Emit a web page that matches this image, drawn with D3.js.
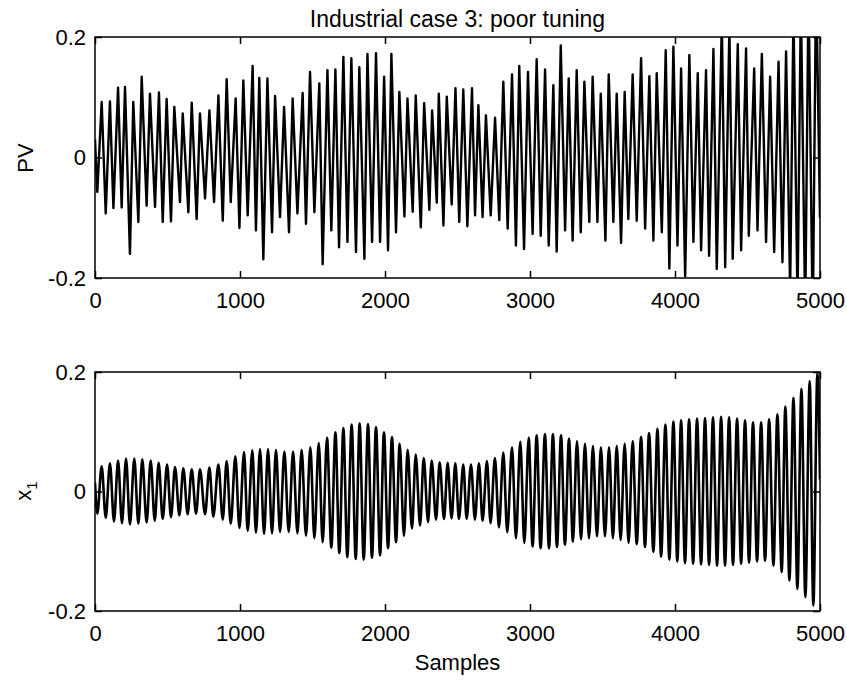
<!DOCTYPE html>
<html>
<head>
<meta charset="utf-8">
<script src="https://cdn.jsdelivr.net/npm/d3@7"></script>
<style>
  body { margin: 0; background: #fff; }
  svg { display: block; font-family: "Liberation Sans", Arial, sans-serif; }
</style>
</head>
<body>
<div id="chart"></div>
<script>
// values (peaks / troughs of each oscillation)
const xTicks = [0, 1000, 2000, 3000, 4000, 5000];
const yTicks = [-0.2, 0, 0.2];
const yTickLabels = ["-0.2", "0", "0.2"];

const pvSample = [0, 16, 46, 74, 103, 127, 159, 184, 207, 241, 264, 299, 322, 356, 379, 414, 441, 467, 494, 524,
  547, 586, 605, 644, 667, 701, 724, 759, 789, 821, 851, 881, 908, 936, 970, 996, 1023, 1053, 1087, 1110,
  1133, 1161, 1189, 1221, 1242, 1276, 1304, 1338, 1363, 1396, 1432, 1455, 1483, 1513, 1547, 1570, 1603, 1630, 1658, 1683,
  1713, 1741, 1768, 1800, 1823, 1858, 1879, 1911, 1938, 1966, 1994, 2021, 2044, 2076, 2099, 2134, 2155, 2191, 2212, 2247,
  2270, 2306, 2325, 2357, 2371, 2403, 2426, 2460, 2486, 2512, 2540, 2568, 2600, 2621, 2644, 2673, 2696, 2729, 2759, 2788,
  2816, 2846, 2876, 2903, 2926, 2959, 2986, 3018, 3046, 3074, 3104, 3129, 3161, 3184, 3212, 3242, 3267, 3294, 3322, 3350,
  3375, 3409, 3432, 3465, 3488, 3520, 3543, 3575, 3598, 3628, 3653, 3678, 3708, 3736, 3766, 3794, 3823, 3851, 3874, 3909,
  3936, 3961, 3989, 4017, 4042, 4070, 4099, 4127, 4157, 4180, 4214, 4235, 4265, 4288, 4323, 4346, 4375, 4398, 4433, 4456,
  4490, 4509, 4546, 4569, 4599, 4628, 4656, 4684, 4714, 4741, 4766, 4794, 4817, 4845, 4868, 4898, 4921, 4950, 4973, 5000];
const pvValue = [0.03, -0.057, 0.092, -0.093, 0.093, -0.084, 0.116, -0.083, 0.117, -0.160, 0.092, -0.107, 0.134, -0.080, 0.106, -0.082, 0.108, -0.107, 0.097, -0.106,
  0.084, -0.074, 0.073, -0.091, 0.091, -0.102, 0.073, -0.068, 0.078, -0.074, 0.103, -0.105, 0.130, -0.074, 0.098, -0.117, 0.128, -0.096, 0.152, -0.121,
  0.132, -0.169, 0.131, -0.124, 0.102, -0.099, 0.084, -0.124, 0.098, -0.093, 0.107, -0.110, 0.142, -0.091, 0.123, -0.177, 0.145, -0.121, 0.146, -0.149,
  0.167, -0.140, 0.165, -0.157, 0.150, -0.168, 0.172, -0.140, 0.173, -0.140, 0.134, -0.154, 0.172, -0.124, 0.109, -0.098, 0.098, -0.090, 0.103, -0.116,
  0.090, -0.087, 0.078, -0.075, 0.106, -0.113, 0.101, -0.078, 0.115, -0.107, 0.113, -0.114, 0.115, -0.096, 0.087, -0.099, 0.070, -0.096, 0.066, -0.104,
  0.126, -0.118, 0.138, -0.146, 0.152, -0.152, 0.142, -0.127, 0.163, -0.130, 0.146, -0.146, 0.120, -0.156, 0.186, -0.121, 0.131, -0.138, 0.145, -0.124,
  0.126, -0.107, 0.134, -0.107, 0.106, -0.138, 0.138, -0.107, 0.106, -0.142, 0.109, -0.102, 0.138, -0.105, 0.165, -0.118, 0.135, -0.138, 0.140, -0.124,
  0.178, -0.184, 0.184, -0.146, 0.148, -0.197, 0.170, -0.140, 0.140, -0.154, 0.145, -0.163, 0.180, -0.185, 0.225, -0.182, 0.215, -0.168, 0.188, -0.154,
  0.181, -0.130, 0.148, -0.121, 0.172, -0.140, 0.134, -0.157, 0.159, -0.174, 0.176, -0.22, 0.24, -0.24, 0.26, -0.26, 0.28, -0.28, 0.30, -0.10];

const x1Sample = [0, 16, 46, 74, 103, 131, 159, 186, 214, 241, 271, 299, 326, 356, 384, 412, 439, 467, 497, 524,
  552, 582, 609, 639, 667, 697, 724, 759, 789, 816, 851, 881, 908, 936, 968, 996, 1028, 1053, 1085, 1110,
  1138, 1166, 1193, 1221, 1248, 1276, 1306, 1336, 1366, 1396, 1425, 1455, 1485, 1513, 1543, 1570, 1600, 1630, 1658, 1685,
  1713, 1740, 1770, 1798, 1825, 1853, 1883, 1910, 1938, 1966, 1993, 2021, 2048, 2076, 2101, 2131, 2156, 2186, 2212, 2242,
  2267, 2297, 2322, 2352, 2377, 2407, 2432, 2459, 2485, 2510, 2540, 2563, 2593, 2620, 2648, 2673, 2703, 2728, 2758, 2786,
  2816, 2843, 2876, 2903, 2933, 2961, 2991, 3018, 3046, 3073, 3103, 3131, 3158, 3186, 3214, 3241, 3269, 3296, 3324, 3352,
  3379, 3407, 3434, 3462, 3489, 3517, 3545, 3572, 3598, 3625, 3653, 3680, 3708, 3736, 3766, 3793, 3821, 3851, 3879, 3904,
  3934, 3961, 3989, 4016, 4042, 4069, 4097, 4125, 4152, 4180, 4207, 4235, 4262, 4290, 4318, 4345, 4373, 4400, 4428, 4456,
  4483, 4511, 4538, 4566, 4594, 4621, 4649, 4679, 4706, 4736, 4761, 4789, 4817, 4844, 4872, 4899, 4929, 4954, 4982, 5000];
const x1Value = [0.015, -0.037, 0.042, -0.044, 0.047, -0.050, 0.052, -0.053, 0.055, -0.055, 0.055, -0.054, 0.054, -0.052, 0.052, -0.049, 0.048, -0.046, 0.045, -0.043,
  0.041, -0.040, 0.039, -0.038, 0.037, -0.037, 0.037, -0.038, 0.040, -0.042, 0.045, -0.047, 0.051, -0.054, 0.059, -0.061, 0.066, -0.066, 0.069, -0.069,
  0.071, -0.071, 0.071, -0.070, 0.070, -0.068, 0.067, -0.068, 0.067, -0.070, 0.070, -0.074, 0.074, -0.078, 0.081, -0.085, 0.090, -0.094, 0.099, -0.103,
  0.106, -0.110, 0.112, -0.113, 0.114, -0.114, 0.113, -0.111, 0.108, -0.107, 0.099, -0.095, 0.091, -0.085, 0.080, -0.074, 0.070, -0.062, 0.062, -0.057,
  0.056, -0.051, 0.052, -0.047, 0.049, -0.046, 0.048, -0.045, 0.047, -0.046, 0.045, -0.046, 0.045, -0.047, 0.047, -0.049, 0.051, -0.053, 0.056, -0.060,
  0.065, -0.068, 0.074, -0.078, 0.083, -0.086, 0.090, -0.092, 0.094, -0.095, 0.096, -0.095, 0.096, -0.093, 0.094, -0.089, 0.088, -0.084, 0.084, -0.080,
  0.080, -0.078, 0.076, -0.075, 0.074, -0.075, 0.074, -0.078, 0.076, -0.081, 0.080, -0.086, 0.084, -0.088, 0.091, -0.093, 0.098, -0.101, 0.105, -0.109,
  0.112, -0.114, 0.117, -0.117, 0.119, -0.120, 0.121, -0.121, 0.122, -0.122, 0.123, -0.123, 0.124, -0.124, 0.125, -0.124, 0.124, -0.123, 0.122, -0.121,
  0.119, -0.119, 0.116, -0.117, 0.116, -0.116, 0.121, -0.124, 0.129, -0.135, 0.142, -0.149, 0.157, -0.163, 0.172, -0.177, 0.185, -0.191, 0.198, 0.02];

const width = 847, height = 680;
const left = 95, right = 820;

const svg = d3.select("#chart").append("svg")
  .attr("width", width)
  .attr("height", height);

const x = d3.scaleLinear().domain([0, 5000]).range([left, right]);

const pvPoints = pvSample.map((s, i) => [s, pvValue[i]]);
const x1Points = x1Sample.map((s, i) => [s, x1Value[i]]);

function drawPanel(id, top, bottom, pts, curve, lw) {
  const y = d3.scaleLinear().domain([-0.2, 0.2]).range([bottom, top]);

  svg.append("clipPath").attr("id", "clip-" + id)
    .append("rect")
    .attr("x", left).attr("y", top)
    .attr("width", right - left).attr("height", bottom - top);

  const line = d3.line()
    .x(d => x(d[0]))
    .y(d => y(d[1]))
    .curve(curve);

  svg.append("path")
    .datum(pts)
    .attr("clip-path", "url(#clip-" + id + ")")
    .attr("d", line)
    .attr("fill", "none")
    .attr("stroke", "#000")
    .attr("stroke-width", lw)
    .attr("stroke-linejoin", "round");

  // axes, ticks pointing inward like matlab
  const gb = svg.append("g")
    .attr("transform", `translate(0,${bottom})`)
    .call(d3.axisBottom(x).tickValues(xTicks).tickFormat(d3.format("d"))
      .tickSizeInner(-7).tickSizeOuter(0).tickPadding(14));
  const gt = svg.append("g")
    .attr("transform", `translate(0,${top})`)
    .call(d3.axisTop(x).tickValues(xTicks).tickFormat("")
      .tickSizeInner(-7).tickSizeOuter(0));
  const gl = svg.append("g")
    .attr("transform", `translate(${left},0)`)
    .call(d3.axisLeft(y).tickValues(yTicks).tickFormat((d, i) => yTickLabels[i])
      .tickSizeInner(-7).tickSizeOuter(0).tickPadding(9));
  const gr = svg.append("g")
    .attr("transform", `translate(${right},0)`)
    .call(d3.axisRight(y).tickValues(yTicks).tickFormat("")
      .tickSizeInner(-7).tickSizeOuter(0));

  [gb, gt, gl, gr].forEach(g => {
    g.select(".domain").remove();
    g.selectAll(".tick line").attr("stroke", "#000").attr("stroke-width", 1.5);
    g.selectAll("text")
      .attr("fill", "#000")
      .style("font-size", "22px")
      .style("font-family", '"Liberation Sans", Arial, sans-serif');
  });

  svg.append("rect")
    .attr("x", left).attr("y", top)
    .attr("width", right - left).attr("height", bottom - top)
    .attr("fill", "none")
    .attr("stroke", "#000")
    .attr("stroke-width", 1.5);
}

drawPanel("pv", 37, 278, pvPoints, d3.curveLinear, 2.4);
drawPanel("x1", 372, 611, x1Points, d3.curveMonotoneX, 2.6);

// title and labels
svg.append("text")
  .attr("x", (left + right) / 2).attr("y", 27)
  .attr("text-anchor", "middle")
  .style("font-size", "23px")
  .text("Industrial case 3: poor tuning");

svg.append("text")
  .attr("transform", "translate(33,158) rotate(-90)")
  .attr("text-anchor", "middle")
  .style("font-size", "22px")
  .text("PV");

const xl = svg.append("text")
  .attr("transform", "translate(31,491) rotate(-90)")
  .attr("text-anchor", "middle")
  .style("font-size", "22px");
xl.append("tspan").text("x");
xl.append("tspan").attr("dy", 6).style("font-size", "15px").text("1");

svg.append("text")
  .attr("x", (left + right) / 2).attr("y", 670)
  .attr("text-anchor", "middle")
  .style("font-size", "22px")
  .text("Samples");
</script>
</body>
</html>
